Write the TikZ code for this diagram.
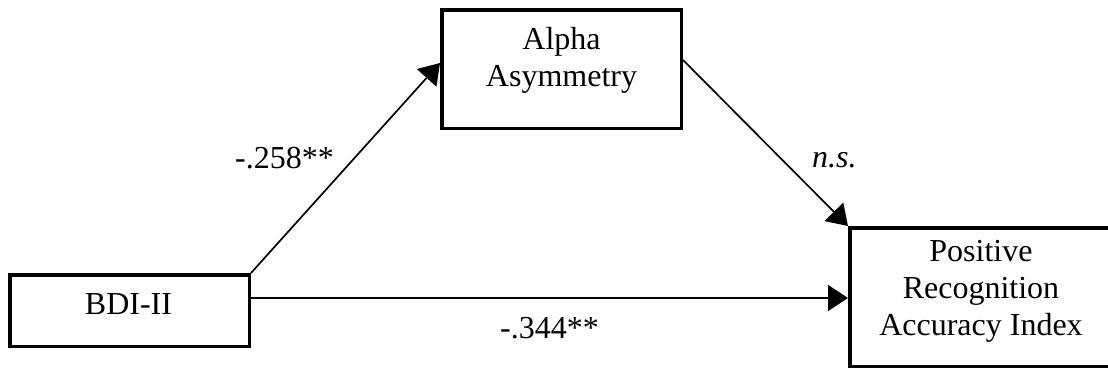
\documentclass[tikz,border=0pt]{standalone}
\usepackage{fontspec}
\setmainfont{Liberation Serif}
\usetikzlibrary{arrows.meta}
\begin{document}
\begin{tikzpicture}[x=1pt,y=-1pt,
  box/.style={draw=black,line width=3.5pt,inner sep=0pt,fill=white},
  txt/.style={inner sep=0pt,align=center,font=\fontsize{32}{37}\selectfont},
  lbl/.style={inner sep=0pt,anchor=base west,font=\fontsize{32}{37}\selectfont},
  conn/.style={line width=1.7pt,-{Triangle[length=20pt,width=26pt]}}]
\useasboundingbox (0,0) rectangle (1108,370);
\node[box,minimum width=239.5pt,minimum height=71.5pt] (bdi) at (129.5,310.5) {};
\node[box,minimum width=239.5pt,minimum height=118.5pt] (alpha) at (561.5,69) {};
\node[box,minimum width=262.5pt,minimum height=138.5pt] (prai) at (981,297) {};
\node[txt] (bdit) at (128.5,304.5) {BDI-II};
\node[txt] (alphat) at (561.5,60) {Alpha\\Asymmetry};
\node[txt] (prait) at (981,291) {Positive\\Recognition\\Accuracy Index};
\draw[conn] (bdi.north east) -- ([yshift=6pt]alpha.west);
\draw[conn] ([yshift=9pt]alpha.east) -- (prai.north west);
\draw[conn] ([yshift=12.5pt]bdi.east) -- ([yshift=12.5pt]bdi.east -| prai.west);
\node[lbl] (l1) at (235,168) {-.258**};
\node[lbl] (l2) at (812,167) {\itshape n.s.};
\node[lbl] (l3) at (500,338) {-.344**};
\end{tikzpicture}
\end{document}
